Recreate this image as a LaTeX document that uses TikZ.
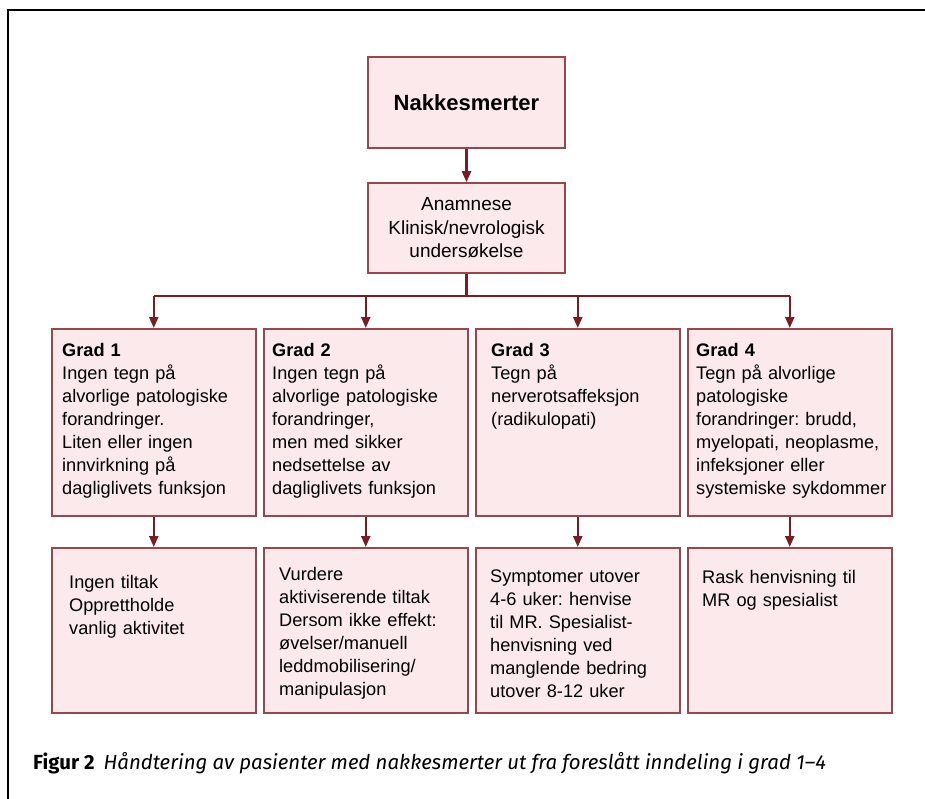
\documentclass[tikz,border=0pt]{standalone}
\usepackage{fontspec}
\setmainfont{Liberation Sans}
\newfontfamily\capfont{Fira Sans}
\usetikzlibrary{arrows.meta}
\definecolor{boxfill}{HTML}{FCE9EC}
\definecolor{boxline}{HTML}{98474E}
\definecolor{arrcol}{HTML}{7A1C22}
\frenchspacing
\begin{document}
\begin{tikzpicture}[x=1pt,y=-1pt,
  box/.style={draw=boxline, fill=boxfill, line width=1.5pt, inner sep=0pt},
  gbox/.style={box, anchor=north west, minimum width=204pt, minimum height=187pt},
  bbox/.style={box, anchor=north west, minimum width=204pt, minimum height=165pt},
  txt/.style={inner sep=0pt, anchor=base west, align=left, text width=205pt, font=\fontsize{18.2}{23}\selectfont},
  arrline/.style={draw=arrcol, line width=2.3pt},
  conn/.style={arrline, -{Triangle[length=11pt,width=9pt]}},
  frame/.style={draw=black, line width=2.5pt}
  ]
\useasboundingbox (0,0) rectangle (925,799);
% frame
\coordinate (fc) at (8,10);
\coordinate (fr) at (925,10);
\coordinate (fb) at (8,799);
\draw[frame] (fb) -- (fc) -- (fr);

% top boxes
\node[box, minimum width=197pt, minimum height=91pt, font=\bfseries\fontsize{22}{26}\selectfont] (n1) at (466.5,102.5) {Nakkesmerter};
\node[box, minimum width=197pt, minimum height=90pt, align=center, font=\fontsize{19}{23.5}\selectfont] (a1) at (466.5,228) {Anamnese\\Klinisk/nevrologisk\\undersøkelse};

% grade boxes
\node[gbox] (g1) at (51,328) {};
\node[gbox] (g2) at (263,328) {};
\node[gbox] (g3) at (475,328) {};
\node[gbox] (g4) at (687,328) {};

% bottom boxes
\node[bbox] (b1) at (51,547) {};
\node[bbox] (b2) at (263,547) {};
\node[bbox] (b3) at (475,547) {};
\node[bbox] (b4) at (687,547) {};

% texts
\node[txt] (t1) at (62,356) {\textbf{Grad 1}\\Ingen tegn på\\alvorlige patologiske\\forandringer.\\Liten eller ingen\\innvirkning på\\dagliglivets funksjon};
\node[txt] (t2) at (272,356) {\textbf{Grad 2}\\Ingen tegn på\\alvorlige patologiske\\forandringer,\\men med sikker\\nedsettelse av\\dagliglivets funksjon};
\node[txt] (t3) at (491,356) {\textbf{Grad 3}\\Tegn på\\nerverotsaffeksjon\\(radikulopati)};
\node[txt] (t4) at (696,356) {\textbf{Grad 4}\\Tegn på alvorlige\\patologiske\\forandringer: brudd,\\myelopati, neoplasme,\\infeksjoner eller\\systemiske sykdommer};

\node[txt] (s1) at (69,588) {Ingen tiltak\\Opprettholde\\vanlig aktivitet};
\node[txt] (s2) at (279,580) {Vurdere\\aktiviserende tiltak\\Dersom ikke effekt:\\øvelser/manuell\\leddmobilisering/\\manipulasjon};
\node[txt] (s3) at (490,582) {Symptomer utover\\4-6 uker: henvise\\til MR. Spesialist-\\henvisning ved\\manglende bedring\\utover 8-12 uker};
\node[txt] (s4) at (702,583) {Rask henvisning til\\MR og spesialist};

% connectors
\draw[conn] (n1) -- (a1);
\coordinate (j) at (466.5,296);
\draw[arrline] (a1.south) -- (j);
\draw[arrline] (g1.north |- j) -- (g4.north |- j);
\foreach \g in {g1,g2,g3,g4} {
  \draw[conn] (\g.north |- j) -- (\g.north);
}
\draw[conn] (g1) -- (b1);
\draw[conn] (g2) -- (b2);
\draw[conn] (g3) -- (b3);
\draw[conn] (g4) -- (b4);

% caption
\node[anchor=base west, inner sep=0pt, font=\capfont\fontsize{20.4}{24}\selectfont] (cap) at (33,769) {\textbf{Figur 2}\hspace{0.45em}\textit{Håndtering av pasienter med nakkesmerter ut fra foreslått inndeling i grad 1–4}};
\end{tikzpicture}
\end{document}
